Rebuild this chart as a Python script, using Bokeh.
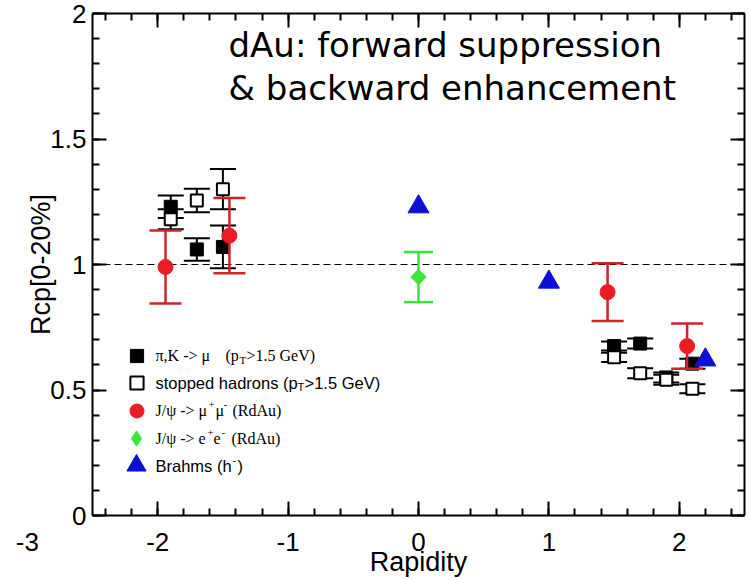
import numpy as np
from bokeh.plotting import figure
from bokeh.models import (ColumnDataSource, Range1d, LinearAxis, SingleIntervalTicker,
                          Span, Label, Legend, LegendItem, CustomJSTickFormatter)
from bokeh.embed import file_html
from bokeh.resources import INLINE

# ---- data: Rcp[0-20%] versus rapidity in d+Au ----
# pi,K -> mu  (pT > 1.5 GeV)
pik_rap = [-1.9, -1.7, -1.5, 1.5, 1.7, 1.9, 2.1]
pik_rcp = [1.23, 1.06, 1.07, 0.675, 0.685, 0.55, 0.605]
pik_err = [0.045, 0.045, 0.085, 0.018, 0.02, 0.02, 0.02]

# stopped hadrons (pT > 1.5 GeV)
stop_rap = [-1.9, -1.7, -1.5, 1.5, 1.7, 1.9, 2.1]
stop_rcp = [1.18, 1.255, 1.30, 0.63, 0.567, 0.541, 0.505]
stop_err = [0.04, 0.047, 0.08, 0.018, 0.02, 0.02, 0.018]

# J/psi -> mu+ mu- (RdAu)
mumu_rap = [-1.94, -1.45, 1.45, 2.06]
mumu_rcp = [0.99, 1.115, 0.89, 0.675]
mumu_err = [0.145, 0.15, 0.115, 0.09]

# J/psi -> e+ e- (RdAu)
ee_rap = [0.0]
ee_rcp = [0.95]
ee_err = [0.10]

# Brahms (h-)
brahms_rap = [0.0, 1.0, 2.2]
brahms_rcp = [1.23, 0.93, 0.62]

X_LO, X_HI = -2.5, 2.5
Y_LO, Y_HI = 0.0, 2.0

# frame placement on the 750 x 579 canvas
FR_L, FR_R, FR_T, FR_B = 92, 744, 13, 516

BLACK = "#000000"
RED = "#ec1c24"
RED_BAR = "#c9252b"
GREEN = "#39e639"
BLUE = "#0c10d2"

SANS = "Liberation Sans"
SERIF = "Liberation Serif"

X_LABEL_STANDOFF = 17


def at(px, py):
    """Canvas pixel position -> data coordinates (for annotation placement)."""
    x = X_LO + (px - FR_L) * (X_HI - X_LO) / (FR_R - FR_L)
    y = Y_HI - (py - FR_T) * (Y_HI - Y_LO) / (FR_B - FR_T)
    return x, y


p = figure(width=750, height=579,
           x_range=Range1d(X_LO, X_HI), y_range=Range1d(Y_LO, Y_HI),
           output_backend="svg", toolbar_location=None,
           min_border_left=FR_L, min_border_right=750 - FR_R,
           min_border_top=FR_T, min_border_bottom=579 - FR_B,
           x_axis_label="Rapidity", y_axis_label="Rcp[0-20%]")
p.grid.visible = False
p.outline_line_color = None
p.background_fill_color = "white"
p.border_fill_color = "white"


def style_axis(ax, interval, labelled):
    ax.ticker = SingleIntervalTicker(interval=interval, num_minor_ticks=5)
    ax.axis_line_width = 2
    ax.axis_line_color = BLACK
    ax.major_tick_line_width = 2
    ax.minor_tick_line_width = 2
    ax.major_tick_in = 14
    ax.major_tick_out = 0
    ax.minor_tick_in = 7
    ax.minor_tick_out = 0
    if labelled:
        ax.formatter = CustomJSTickFormatter(code="return tick.toString()")
        ax.major_label_text_font = SANS
        ax.major_label_text_font_size = "26px"
        ax.major_label_text_color = BLACK
        ax.axis_label_text_font = SANS
        ax.axis_label_text_font_size = "27px"
        ax.axis_label_text_font_style = "normal"
        ax.axis_label_text_color = BLACK
    else:
        ax.formatter = CustomJSTickFormatter(code="return ''")
        ax.major_label_text_font_size = "0px"
        ax.major_label_standoff = 0


style_axis(p.xaxis[0], 1, True)
style_axis(p.yaxis[0], 0.5, True)
p.xaxis[0].major_label_standoff = X_LABEL_STANDOFF
p.xaxis[0].axis_label_standoff = -7
p.yaxis[0].major_label_standoff = 6
p.yaxis[0].axis_label_standoff = -9

top_axis = LinearAxis()
right_axis = LinearAxis()
style_axis(top_axis, 1, False)
style_axis(right_axis, 0.5, False)
p.add_layout(top_axis, "above")
p.add_layout(right_axis, "right")

# reference line at Rcp = 1
p.add_layout(Span(location=1.0, dimension="width", line_color=BLACK,
                  line_width=1, line_dash="7 4", level="underlay"))


def error_bars(rap, val, err, color, cap, lw):
    src = ColumnDataSource(dict(x=rap,
                                lo=[v - e for v, e in zip(val, err)],
                                hi=[v + e for v, e in zip(val, err)]))
    p.segment(x0="x", y0="lo", x1="x", y1="hi", source=src,
              line_color=color, line_width=lw)
    p.scatter(x="x", y="lo", source=src, marker="dash", size=cap,
              line_color=color, line_width=lw)
    p.scatter(x="x", y="hi", source=src, marker="dash", size=cap,
              line_color=color, line_width=lw)


# black squares with their error bars
error_bars(pik_rap, pik_rcp, pik_err, BLACK, 26, 2)
error_bars(stop_rap, stop_rcp, stop_err, BLACK, 26, 2)
r_pik = p.scatter(pik_rap, pik_rcp, marker="square", size=13,
                  fill_color=BLACK, line_color=BLACK)
r_stop = p.scatter(stop_rap, stop_rcp, marker="square", size=12,
                   fill_color="white", line_color=BLACK, line_width=2)

# J/psi points
error_bars(mumu_rap, mumu_rcp, mumu_err, RED_BAR, 32, 2.5)
r_mumu = p.scatter(mumu_rap, mumu_rcp, marker="circle", size=15,
                   fill_color=RED, line_color=RED)
error_bars(ee_rap, ee_rcp, ee_err, GREEN, 29, 2.5)
r_ee = p.scatter(ee_rap, ee_rcp, marker="square", angle=np.pi / 4, size=11,
                 fill_color=GREEN, line_color=GREEN)
# legend key for the diamond (legend keys are drawn unrotated)
r_ee_key = p.scatter(ee_rap, ee_rcp, marker="diamond", size=15,
                     fill_color=GREEN, line_color=GREEN, visible=False)

# Brahms negative hadrons
r_brahms = p.scatter(brahms_rap, brahms_rcp, marker="triangle", size=21,
                     fill_color=BLUE, line_color=BLUE)

# legend: one key per row; texts are set separately for sub/superscripts
legend_rows_y = [356, 383, 411, 439, 466]
KEY_X = 136
key_renderers = [r_pik, r_stop, r_mumu, r_ee_key, r_brahms]
key_box = [33, 33, 35, 38, 48]   # key glyph box; marker size = 0.4 * box
for r, row_y, box in zip(key_renderers, legend_rows_y, key_box):
    p.add_layout(Legend(items=[LegendItem(label="", renderers=[r])],
                        location=(KEY_X - box / 2 - FR_L, FR_B - row_y - box / 2),
                        glyph_width=box, glyph_height=box,
                        padding=0, margin=0, spacing=0,
                        label_standoff=0, label_width=0, label_height=0,
                        inactive_fill_alpha=0,
                        border_line_alpha=0, background_fill_alpha=0))

# (row, text, left pixel, vertical shift in px (+ = down), font, size)
legend_pieces = [
    (0, "π,K -> μ", 155, 0, SERIF, 16),
    (0, "(p", 225, 0, SERIF, 16),
    (0, "T", 239, 4, SERIF, 11),
    (0, ">1.5 GeV)", 246, 0, SERIF, 16),
    (1, "stopped hadrons (p", 155, 0, SANS, 16.5),
    (1, "T", 297, 4, SANS, 11),
    (1, ">1.5 GeV)", 304, 0, SANS, 16.5),
    (2, "J/ψ -> μ", 155, 0, SERIF, 16),
    (2, "+", 208, -6, SERIF, 11),
    (2, "μ", 215, 0, SERIF, 16),
    (2, "-", 223, -6, SERIF, 11),
    (2, "(RdAu)", 232, 0, SERIF, 16),
    (3, "J/ψ -> e", 155, 0, SERIF, 16),
    (3, "+", 207, -6, SERIF, 11),
    (3, "e", 213, 0, SERIF, 16),
    (3, "-", 221, -6, SERIF, 11),
    (3, "(RdAu)", 231, 0, SERIF, 16),
    (4, "Brahms (h", 155, 0, SANS, 16.5),
    (4, "-", 232, -6, SANS, 11),
    (4, ")", 237, 0, SANS, 16.5),
]
for row, txt, px, dy, font, size in legend_pieces:
    lx, ly = at(px, legend_rows_y[row])
    p.add_layout(Label(x=lx, y=ly, y_offset=-dy, text=txt, text_font=font,
                       text_font_size=f"{size}px", text_color=BLACK,
                       text_align="left", text_baseline="middle"))

# headline inside the frame
title_lines = ["dAu: forward suppression", "& backward enhancement"]
title_baselines = [45, 88]
for txt, py in zip(title_lines, title_baselines):
    tx, ty = at(228, py)
    p.add_layout(Label(x=tx, y=ty, text=txt, text_font="DejaVu Sans",
                       text_font_size="34px", text_color=BLACK,
                       text_align="left", text_baseline="alphabetic"))

# stray tick label at rapidity -3, left of the frame (kept in the left panel
# so that it is not clipped to the frame)
p.add_layout(Label(x=-3.0, y=0.0, y_offset=-X_LABEL_STANDOFF, text="-3",
                   text_font=SANS, text_font_size="26px", text_color=BLACK,
                   text_align="center", text_baseline="top"), "left")

open("out.html", "w").write(file_html(p, INLINE))
